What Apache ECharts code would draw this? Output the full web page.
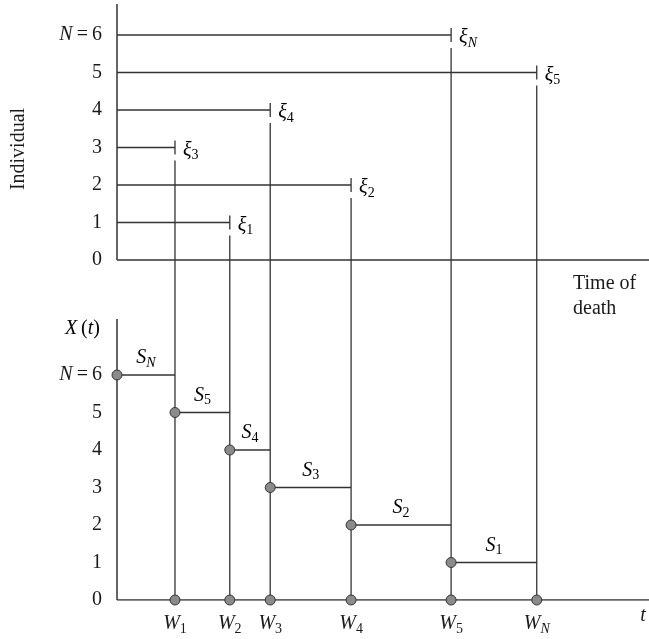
<!DOCTYPE html>
<html>
<head>
<meta charset="utf-8">
<script src="https://cdn.jsdelivr.net/npm/echarts@6/dist/echarts.min.js"></script>
<style>
html,body{margin:0;padding:0;background:#fff}
#main{width:649px;height:639px}
</style>
</head>
<body>
<div id="main"></div>
<script>
// death times of individuals 1..6 (x units)
var deathTimes = [2.12, 4.40, 1.09, 2.88, 7.89, 6.28];
var individuals = [1, 2, 3, 4, 5, 6];
var xiSubs = ['1', '2', '3', '4', '5', 'N'];
var rowTicks = [0, 1, 2, 3, 4, 5, 6];
var countTicks = [0, 1, 2, 3, 4, 5, 6];
// ordered death times W1..WN
var wTimes = deathTimes.slice().sort(function(a, b){ return a - b });
var wSubs = ['1', '2', '3', '4', '5', 'N'];
// X(t) levels between deaths
var stepLevels = [6, 5, 4, 3, 2, 1];
var sSubs = ['N', '5', '4', '3', '2', '1'];

var xMax = 10;
var topMin = -9.067, topMax = 6.827;   // upper panel axis (individual)
var botMax = 15.893, botAxisTop = 7.49; // lower panel axis X(t)

var ink = '#333';
var serif = 'Liberation Serif';
var rich = {
	i: {fontFamily: serif, fontStyle: 'italic', fontSize: 20, color: '#1a1a1a'},
	n: {fontFamily: serif, fontSize: 20, color: '#1a1a1a'},
	s: {fontFamily: serif, fontStyle: 'italic', fontSize: 14, color: '#1a1a1a', padding: [10, 0, 0, 0]},
	sn: {fontFamily: serif, fontSize: 14, color: '#1a1a1a', padding: [10, 0, 0, 0]}
};
function sub(letter, s){
	var key = /[0-9]/.test(s) ? 'sn' : 's';
	return '{i|' + letter + '}{' + key + '|' + s + '}';
}
function yLabel(v){
	return v == 6 ? '{i|N}{n|\u2009=\u20096}' : '{n|' + v + '}';
}

var lifeData = individuals.map(function(r, k){ return [deathTimes[k], r, k] });
var stepData = stepLevels.map(function(l, k){
	return [k == 0 ? 0 : wTimes[k - 1], wTimes[k], l, k];
});

var chart = echarts.init(document.getElementById('main'));
chart.setOption({
	animation: false,
	grid: {left: 117, right: 0, top: 4, bottom: 39},
	xAxis: {
		type: 'value', min: 0, max: xMax,
		axisLine: {show: false}, axisTick: {show: false}, splitLine: {show: false},
		axisLabel: {
			customValues: wTimes, margin: 12, rich: rich,
			formatter: function(v){ return sub('W', wSubs[wTimes.indexOf(v)]) }
		}
	},
	yAxis: [{
		type: 'value', min: topMin, max: topMax,
		axisLine: {show: false}, axisTick: {show: false}, splitLine: {show: false},
		axisLabel: {customValues: rowTicks, margin: 15, rich: rich, formatter: yLabel}
	}, {
		type: 'value', min: 0, max: botMax, position: 'left',
		axisLine: {show: false}, axisTick: {show: false}, splitLine: {show: false},
		axisLabel: {customValues: countTicks, margin: 15, rich: rich, formatter: yLabel}
	}],
	graphic: [{
		type: 'text', x: 19, y: 149, rotation: Math.PI / 2,
		style: {text: 'Individual', font: '20px "Liberation Serif"', fill: '#1a1a1a', align: 'center', verticalAlign: 'middle'}
	}, {
		type: 'text', x: 100, y: 329,
		style: {text: '{i|X}{n|\u2009(}{i|t}{n|)}', rich: rich, align: 'right', verticalAlign: 'middle'}
	}, {
		type: 'text', x: 573, y: 271,
		style: {text: 'Time of\ndeath', font: '20px "Liberation Serif"', fill: '#1a1a1a', lineHeight: 25}
	}, {
		type: 'text', x: 643, y: 616,
		style: {text: 't', font: 'italic 20px "Liberation Serif"', fill: '#1a1a1a', align: 'center', verticalAlign: 'middle'}
	}],
	series: [
		// axes of both panels
		{type: 'line', yAxisIndex: 0, data: [[0, 0], [0, topMax]], showSymbol: false, lineStyle: {color: ink, width: 1.5}},
		{type: 'line', yAxisIndex: 0, data: [[0, 0], [xMax, 0]], showSymbol: false, lineStyle: {color: ink, width: 1.5}},
		{type: 'line', yAxisIndex: 1, data: [[0, 0], [0, botAxisTop]], showSymbol: false, lineStyle: {color: ink, width: 1.5}},
		{type: 'line', yAxisIndex: 1, data: [[0, 0], [xMax, 0]], showSymbol: false, lineStyle: {color: ink, width: 1.5}},
		{   // lifetimes, death ticks and drop lines
			type: 'custom', yAxisIndex: 0, data: lifeData, z: 3,
			renderItem: function(params, api){
				var t = api.value(0), r = api.value(1), k = api.value(2);
				var p0 = api.coord([0, r]), p1 = api.coord([t, r]), pb = api.coord([t, topMin]);
				return {type: 'group', children: [
					{type: 'line', shape: {x1: p0[0], y1: p0[1], x2: p1[0], y2: p1[1]}, style: {stroke: ink, lineWidth: 1.6}},
					{type: 'line', shape: {x1: p1[0], y1: p1[1] - 7, x2: p1[0], y2: p1[1] + 7}, style: {stroke: ink, lineWidth: 1.3}},
					{type: 'line', shape: {x1: p1[0], y1: p1[1] + 13, x2: pb[0], y2: pb[1]}, style: {stroke: ink, lineWidth: 1.3}},
					{type: 'text', x: p1[0] + 8, y: p1[1] + 3, style: {text: sub('ξ', xiSubs[k]), rich: rich, verticalAlign: 'middle'}}
				]};
			}
		},
		{   // X(t) steps
			type: 'custom', yAxisIndex: 1, data: stepData, z: 4,
			renderItem: function(params, api){
				var s = api.value(0), e = api.value(1), l = api.value(2), k = api.value(3);
				var p0 = api.coord([s, l]), p1 = api.coord([e, l]);
				return {type: 'group', children: [
					{type: 'line', shape: {x1: p0[0], y1: p0[1], x2: p1[0], y2: p1[1]}, style: {stroke: ink, lineWidth: 1.6}},
					{type: 'circle', shape: {cx: p0[0], cy: p0[1], r: 5}, style: {fill: '#8a8a8a', stroke: ink, lineWidth: 1}},
					{type: 'text', x: (p0[0] + p1[0]) / 2, y: p0[1] - 17, style: {text: sub('S', sSubs[k]), rich: rich, align: 'center', verticalAlign: 'middle'}}
				]};
			}
		},
		{
			type: 'scatter', yAxisIndex: 1, z: 5,
			data: wTimes.map(function(w){ return [w, 0] }),
			symbolSize: 10,
			itemStyle: {color: '#8a8a8a', borderColor: ink, borderWidth: 1, opacity: 1}
		}
	]
});
</script>
</body>
</html>
